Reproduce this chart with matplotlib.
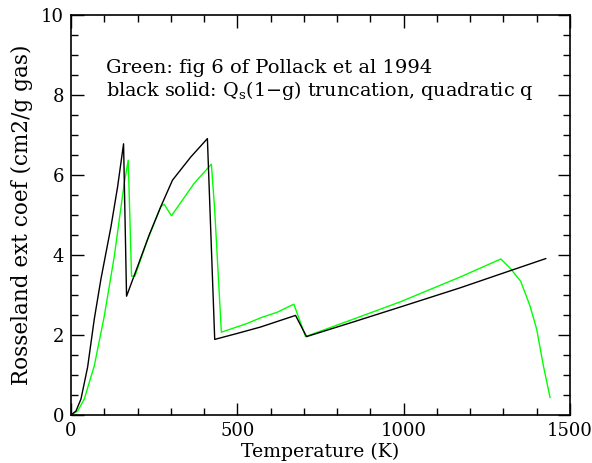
import matplotlib
matplotlib.use("Agg")
import matplotlib.pyplot as plt
from matplotlib.ticker import MultipleLocator

# Black solid: Qs(1-g) truncation, quadratic q
black_T = [0, 15, 30, 50, 70, 90, 120, 140, 158, 167, 200, 235, 270, 305, 360, 410,
           432, 500, 570, 675, 708, 850, 990, 1170, 1300, 1427]
black_k = [0.0, 0.1, 0.4, 1.2, 2.4, 3.4, 4.7, 5.7, 6.78, 2.97, 3.71, 4.5, 5.21, 5.87, 6.45, 6.91,
           1.89, 2.04, 2.20, 2.49, 1.96, 2.33, 2.70, 3.18, 3.55, 3.91]

# Green: fig 6 of Pollack et al 1994
green_T = [0, 20, 40, 70, 100, 130, 160, 172, 182, 192, 230, 270, 280, 302, 370, 422,
           432, 452, 530, 570, 620, 670, 705, 850, 990, 1170, 1292, 1320, 1352, 1380,
           1400, 1420, 1440]
green_k = [0.0, 0.1, 0.4, 1.23, 2.47, 3.96, 5.79, 6.37, 3.47, 3.47, 4.38, 5.21, 5.27, 4.98,
           5.79, 6.27, 5.12, 2.07, 2.29, 2.43, 2.57, 2.77, 1.96, 2.40, 2.83, 3.45, 3.90,
           3.67, 3.34, 2.72, 2.14, 1.23, 0.44]

plt.rcParams['font.family'] = ['DejaVu Serif']
plt.rcParams['mathtext.fontset'] = 'dejavuserif'

fig = plt.figure(figsize=(5.92, 4.63), dpi=100)
ax = fig.add_axes([71/592, 48/463, 499/592, 400/463])

ax.plot(green_T, green_k, color='#00ff00', lw=1.0)
ax.plot(black_T, black_k, color='black', lw=1.0)

ax.set_xlim(0, 1500)
ax.set_ylim(0, 10)
ax.xaxis.set_major_locator(MultipleLocator(500))
ax.xaxis.set_minor_locator(MultipleLocator(100))
ax.yaxis.set_major_locator(MultipleLocator(2))
ax.yaxis.set_minor_locator(MultipleLocator(0.5))
ax.tick_params(which='both', direction='in', top=True, right=True, labelsize=13, pad=5)
ax.tick_params(which='major', length=9, width=1)
ax.tick_params(which='minor', length=5, width=1)
for s in ax.spines.values():
    s.set_linewidth(1.2)

ax.set_xlabel('Temperature (K)', fontsize=13.6, labelpad=2)
ax.set_ylabel('Rosseland ext coef (cm2/g gas)', fontsize=15.5, labelpad=6)

ax.text(105, 8.67, 'Green: fig 6 of Pollack et al 1994', fontsize=14, va='center', ha='left')
ax.text(105, 8.12, 'black solid: Q$_\\mathrm{s}$(1\u2212g) truncation, quadratic q',
        fontsize=13.8, va='center', ha='left')

fig.savefig('out.png', dpi=100)
